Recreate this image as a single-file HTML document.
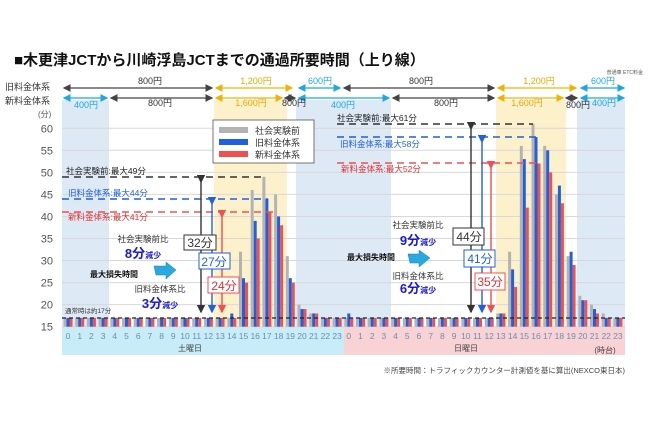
<!DOCTYPE html>
<html><head><meta charset="utf-8"><style>
body{margin:0;background:#fff;}
svg{display:block;font-family:"Liberation Sans","Noto Sans CJK JP",sans-serif;}
</style></head><body>
<svg id="s" width="650" height="433" viewBox="0 0 650 433" xmlns="http://www.w3.org/2000/svg">
<defs>
<marker id="ag" markerWidth="6" markerHeight="6" refX="5" refY="3" orient="auto-start-reverse"><path d="M0,0L6,3L0,6z" fill="#444"/></marker>
<marker id="ay" markerWidth="6" markerHeight="6" refX="5" refY="3" orient="auto-start-reverse"><path d="M0,0L6,3L0,6z" fill="#f0b400"/></marker>
<marker id="ac" markerWidth="6" markerHeight="6" refX="5" refY="3" orient="auto-start-reverse"><path d="M0,0L6,3L0,6z" fill="#1ea8e0"/></marker>
<marker id="ak" markerWidth="6" markerHeight="6" refX="5" refY="3" orient="auto"><path d="M0,0L6,3L0,6z" fill="#333"/></marker>
<marker id="ab" markerWidth="6" markerHeight="6" refX="5" refY="3" orient="auto"><path d="M0,0L6,3L0,6z" fill="#1f5fe0"/></marker>
<marker id="ar" markerWidth="6" markerHeight="6" refX="5" refY="3" orient="auto"><path d="M0,0L6,3L0,6z" fill="#f05050"/></marker>
</defs>
<!-- shading -->
<rect x="62" y="100" width="47" height="227" fill="#dde9f5"/>
<rect x="296" y="100" width="95" height="227" fill="#dde9f5"/>
<rect x="577" y="100" width="48" height="227" fill="#dde9f5"/>
<rect x="214" y="100" width="73" height="227" fill="#fdf1cc"/>
<rect x="496" y="100" width="70" height="227" fill="#fdf1cc"/>
<rect x="62" y="327" width="282" height="28" fill="#c8ecf8"/>
<rect x="344" y="327" width="281" height="28" fill="#f9d2d6"/>
<g id="grid" stroke="#d8d8d8" stroke-width="1"></g>
<g id="ylab" font-size="11" fill="#555" text-anchor="end"></g>
<g id="bars"></g>
<g id="xlab" font-size="8.5" fill="#6a8fb0" text-anchor="middle"></g>
<!-- title -->
<text x="14" y="65" font-size="15" font-weight="bold" fill="#111">■木更津JCTから川崎浮島JCTまでの通過所要時間（上り線）</text>
<text x="643" y="74" font-size="5" fill="#555" text-anchor="end">普通車 ETC料金</text>
<text x="5" y="90" font-size="9" fill="#333">旧料金体系</text>
<text x="5" y="104" font-size="9" fill="#333">新料金体系</text>
<text x="38" y="117" font-size="8" fill="#555">(分)</text>
<!-- fare arrows row1 -->
<g stroke-width="1.3" fill="none">
<line x1="64" y1="88" x2="212" y2="88" stroke="#444" marker-start="url(#ag)" marker-end="url(#ag)"/>
<line x1="216" y1="88" x2="292" y2="88" stroke="#f0b400" marker-start="url(#ay)" marker-end="url(#ay)"/>
<line x1="299" y1="88" x2="340" y2="88" stroke="#1ea8e0" marker-start="url(#ac)" marker-end="url(#ac)"/>
<line x1="344" y1="88" x2="494" y2="88" stroke="#444" marker-start="url(#ag)" marker-end="url(#ag)"/>
<line x1="498" y1="88" x2="576" y2="88" stroke="#f0b400" marker-start="url(#ay)" marker-end="url(#ay)"/>
<line x1="581" y1="88" x2="624" y2="88" stroke="#1ea8e0" marker-start="url(#ac)" marker-end="url(#ac)"/>
<line x1="64" y1="98" x2="107" y2="98" stroke="#1ea8e0" marker-start="url(#ac)" marker-end="url(#ac)"/>
<line x1="111" y1="98" x2="212" y2="98" stroke="#444" marker-start="url(#ag)" marker-end="url(#ag)"/>
<line x1="216" y1="98" x2="282" y2="98" stroke="#f0b400" marker-start="url(#ay)" marker-end="url(#ay)"/>
<line x1="285" y1="98" x2="295" y2="98" stroke="#444" marker-start="url(#ag)" marker-end="url(#ag)"/>
<line x1="299" y1="98" x2="389" y2="98" stroke="#1ea8e0" marker-start="url(#ac)" marker-end="url(#ac)"/>
<line x1="393" y1="98" x2="494" y2="98" stroke="#444" marker-start="url(#ag)" marker-end="url(#ag)"/>
<line x1="498" y1="98" x2="563" y2="98" stroke="#f0b400" marker-start="url(#ay)" marker-end="url(#ay)"/>
<line x1="566" y1="98" x2="577" y2="98" stroke="#444" marker-start="url(#ag)" marker-end="url(#ag)"/>
<line x1="581" y1="98" x2="624" y2="98" stroke="#1ea8e0" marker-start="url(#ac)" marker-end="url(#ac)"/>
</g>
<g font-size="9" text-anchor="middle">
<text x="150" y="84" fill="#333">800円</text>
<text x="256" y="84" fill="#e8a800">1,200円</text>
<text x="320" y="84" fill="#1ea8e0">600円</text>
<text x="421" y="84" fill="#333">800円</text>
<text x="539" y="84" fill="#e8a800">1,200円</text>
<text x="603" y="84" fill="#1ea8e0">600円</text>
<text x="86" y="108" fill="#1ea8e0">400円</text>
<text x="160" y="106" fill="#333">800円</text>
<text x="251" y="106" fill="#e8a800">1,600円</text>
<text x="294" y="106" fill="#333">800円</text>
<text x="343" y="108" fill="#1ea8e0">400円</text>
<text x="446" y="106" fill="#333">800円</text>
<text x="527" y="106" fill="#e8a800">1,600円</text>
<text x="578" y="108" fill="#333">800円</text>
<text x="604" y="106" fill="#1ea8e0">400円</text>
</g>
<!-- legend -->
<rect x="213" y="120" width="101" height="43" fill="#fff" stroke="#555" stroke-width="0.8"/>
<rect x="219" y="127" width="29" height="6" fill="#b3b3b3"/>
<rect x="219" y="139" width="29" height="6" fill="#1f5fe0"/>
<rect x="219" y="151" width="29" height="6" fill="#f05050"/>
<g font-size="9" fill="#333"><text x="255" y="134">社会実験前</text><text x="255" y="146">旧料金体系</text><text x="255" y="158">新料金体系</text></g>
<!-- dashed -->
<g stroke-width="1.6" stroke-dasharray="7,5" fill="none">
<line x1="62" y1="177" x2="265" y2="177" stroke="#333"/>
<line x1="62" y1="199" x2="268" y2="199" stroke="#1f5fe0"/>
<line x1="62" y1="212" x2="273" y2="212" stroke="#f05050"/>
<line x1="337" y1="124" x2="533" y2="124" stroke="#333"/>
<line x1="337" y1="137" x2="536" y2="137" stroke="#1f5fe0"/>
<line x1="337" y1="163" x2="540" y2="163" stroke="#f05050"/>
<line x1="62" y1="318" x2="625" y2="318" stroke="#222" stroke-width="1.2" stroke-dasharray="4,3"/>
</g>
<g font-size="8.5">
<text x="66" y="174" fill="#222">社会実験前:最大49分</text>
<text x="68" y="196" fill="#1f5fe0">旧料金体系:最大44分</text>
<text x="68" y="220" fill="#e03030">新料金体系:最大41分</text>
<text x="337" y="121" fill="#222">社会実験前:最大61分</text>
<text x="340" y="147" fill="#1f5fe0">旧料金体系:最大58分</text>
<text x="341" y="172" fill="#e03030">新料金体系:最大52分</text>
<text x="65" y="313" font-size="6.5" fill="#333">通常時は約17分</text>
</g>
<!-- vertical arrows -->
<g stroke-width="1.4">
<line x1="201" y1="182" x2="201" y2="312" stroke="#333" marker-start="url(#ak)" marker-end="url(#ak)"/>
<line x1="212" y1="204" x2="212" y2="312" stroke="#1f5fe0" marker-start="url(#ab)" marker-end="url(#ab)"/>
<line x1="222" y1="217" x2="222" y2="312" stroke="#f05050" marker-start="url(#ar)" marker-end="url(#ar)"/>
<line x1="471" y1="129" x2="471" y2="312" stroke="#333" marker-start="url(#ak)" marker-end="url(#ak)"/>
<line x1="482" y1="142" x2="482" y2="312" stroke="#1f5fe0" marker-start="url(#ab)" marker-end="url(#ab)"/>
<line x1="491" y1="168" x2="491" y2="312" stroke="#f05050" marker-start="url(#ar)" marker-end="url(#ar)"/>
</g>
<g font-size="12" text-anchor="middle">
<rect x="184" y="235" width="32" height="15" fill="#fff" stroke="#333"/><text x="200" y="247" fill="#333">32分</text>
<rect x="199" y="253" width="31" height="16" fill="#fff" stroke="#1f5fe0"/><text x="214" y="266" fill="#1f5fe0">27分</text>
<rect x="208" y="277" width="31" height="16" fill="#fff" stroke="#f05050"/><text x="224" y="290" fill="#e03030">24分</text>
<rect x="453" y="228" width="31" height="17" fill="#fff" stroke="#333"/><text x="469" y="241" fill="#333">44分</text>
<rect x="464" y="250" width="31" height="17" fill="#fff" stroke="#1f5fe0"/><text x="480" y="263" fill="#1f5fe0">41分</text>
<rect x="475" y="273" width="30" height="17" fill="#fff" stroke="#f05050"/><text x="490" y="286" fill="#e03030">35分</text>
</g>
<!-- annotations -->
<g text-anchor="middle">
<text x="143" y="242" font-size="8.5" fill="#333">社会実験前比</text>
<text x="143" y="258" font-size="13" font-weight="bold" fill="#1a1ad0">8分<tspan font-size="8">減少</tspan></text>
<text x="160" y="292" font-size="8.5" fill="#333">旧料金体系比</text>
<text x="160" y="308" font-size="13" font-weight="bold" fill="#1a1ad0">3分<tspan font-size="8">減少</tspan></text>
<text x="418" y="228" font-size="8.5" fill="#333">社会実験前比</text>
<text x="418" y="245" font-size="13" font-weight="bold" fill="#1a1ad0">9分<tspan font-size="8">減少</tspan></text>
<text x="418" y="279" font-size="8.5" fill="#333">旧料金体系比</text>
<text x="418" y="293" font-size="13" font-weight="bold" fill="#1a1ad0">6分<tspan font-size="8">減少</tspan></text>
</g>
<text x="90" y="277" font-size="8" font-weight="bold" fill="#111">最大損失時間</text>
<text x="347" y="260" font-size="8" font-weight="bold" fill="#111">最大損失時間</text>
<path d="M154,266 L166,266 L166,262 L176,270 L166,279 L166,275 L156,275 Z" fill="#2aa8e0" stroke="#1080b0" stroke-width="0.5"/>
<path d="M408,254 L419,254 L419,250 L430,258 L419,267 L419,263 L410,263 Z" fill="#2aa8e0" stroke="#1080b0" stroke-width="0.5"/>
<text x="190" y="351" font-size="8" fill="#444" text-anchor="middle">土曜日</text>
<text x="466" y="351" font-size="8" fill="#444" text-anchor="middle">日曜日</text>
<text x="605" y="353" font-size="8" fill="#444" text-anchor="middle">(時台)</text>
<text x="625" y="373" font-size="7.5" fill="#444" text-anchor="end">※所要時間：トラフィックカウンター計測値を基に算出(NEXCO東日本)</text>
</svg>
<script>
var NS="http://www.w3.org/2000/svg";
function Y(v){return 326.7-(v-15)*4.41;}
function el(p,t,a){var e=document.createElementNS(NS,t);for(var k in a)e.setAttribute(k,a[k]);p.appendChild(e);return e;}
var g=document.getElementById('grid'),yl=document.getElementById('ylab');
for(var v=15;v<=60;v+=5){el(g,'line',{x1:62,x2:625,y1:Y(v),y2:Y(v)});var t=el(yl,'text',{x:53,y:Y(v)+4});t.textContent=v;}
var G=[],B=[],R=[];
for(var i=0;i<48;i++){G[i]=17;B[i]=17;R[i]=17;}
var sat={14:[17,18,17],15:[32,26,25],16:[46,39,35],17:[49,44,41],18:[45,40,38],19:[31,26,25],20:[20,19,19],21:[18,18,18]};
var sun={0:[17,18,17],13:[18,18,18],14:[32,28,24],15:[56,53,42],16:[61,58,52],17:[56,55,50],18:[45,47,43],19:[31,32,29],20:[22,21,21],21:[20,19,18],22:[18,17,17]};
for(var k in sat){G[+k]=sat[k][0];B[+k]=sat[k][1];R[+k]=sat[k][2];}
for(var k in sun){G[24+ +k]=sun[k][0];B[24+ +k]=sun[k][1];R[24+ +k]=sun[k][2];}
var b=document.getElementById('bars'),xl=document.getElementById('xlab');
for(var i=0;i<48;i++){var c=68+11.7*i;
 [[G[i],'#b3b3b3',-4.5],[B[i],'#1f5fe0',-1.5],[R[i],'#f05050',1.5]].forEach(function(d){var y=Y(d[0]);el(b,'rect',{x:c+d[2],y:y,width:3,height:326.7-y,fill:d[1]});});
 var t=el(xl,'text',{x:c,y:339});t.textContent=i%24;}
</script>
</body></html>
